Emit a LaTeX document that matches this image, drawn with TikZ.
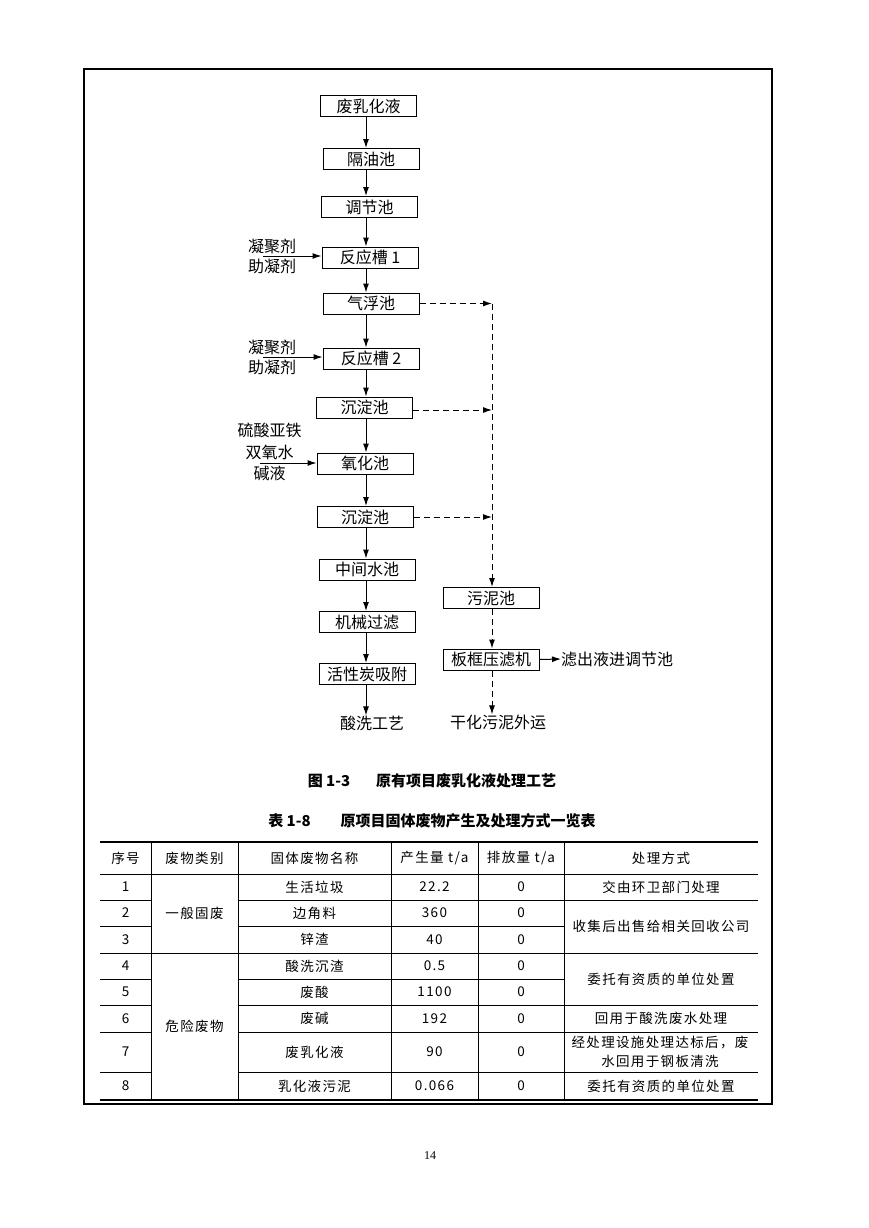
\documentclass[tikz,border=0pt]{standalone}
\usepackage{fontspec}
\setmainfont{Noto Sans CJK SC}
\newfontfamily\tabfont{Noto Sans CJK SC}[LetterSpace=10]
\newfontfamily\pgfont{Liberation Serif}
\usetikzlibrary{arrows.meta}
\tikzset{
  box/.style={draw, line width=1pt, minimum width=96pt, minimum height=21pt, inner sep=0pt, font=\fontsize{16}{16}\selectfont},
  lbl/.style={inner sep=0pt, align=center, font=\fontsize{16}{20}\selectfont},
  arr/.style={line width=1pt, -{Latex[length=9pt,width=6pt]}},
  darr/.style={arr, dash pattern=on 6pt off 4pt},
  cell/.style={inner sep=0pt, align=center, font=\tabfont\fontsize{13.5}{19}\selectfont},
  rulethin/.style={line width=0.8pt},
  rulethick/.style={line width=2.6pt},
  captxt/.style={inner sep=0pt, font=\bfseries\fontsize{15}{16}\selectfont}
}
\begin{document}
\begin{tikzpicture}[x=1pt,y=-1pt]
\useasboundingbox[fill=white] (0,0) rectangle (869,1228);
% outer frame
\draw[line width=2pt] (84,69) rectangle (772,1104);

% main chain
\coordinate (ax) at (366,0);
\node[box] (fy) at (368.5,106.5) {废乳化液};
\node[box] (gy) at (371,159) {隔油池};
\node[box] (tj) at (369.5,207) {调节池};
\node[box] (r1) at (370,257.5) {反应槽 1};
\node[box] (qf) at (371,303.5) {气浮池};
\node[box] (r2) at (371,358.5) {反应槽 2};
\node[box] (c1) at (364.5,407.5) {沉淀池};
\node[box] (yh) at (365,463.5) {氧化池};
\node[box] (c2) at (365,517) {沉淀池};
\node[box] (zj) at (367,569.5) {中间水池};
\node[box] (jx) at (367,622) {机械过滤};
\node[box] (hx) at (367,674) {活性炭吸附};
\node[lbl] (sx) at (372,723) {酸洗工艺};

\foreach \a/\b in {fy/gy,gy/tj,tj/r1,r1/qf,qf/r2,r2/c1,c1/yh,yh/c2,c2/zj,zj/jx,jx/hx,hx/sx}
  \draw[arr] (\a.south -| ax) -- (\b.north -| ax);

% side inputs
\node[lbl] (in1) at (272,256) {凝聚剂\\助凝剂};
\coordinate (in1s) at (263,256);
\draw[arr] (in1s) -- (r1.west |- in1s);
\node[lbl] (in2) at (272,357) {凝聚剂\\助凝剂};
\coordinate (in2s) at (263,357);
\draw[arr] (in2s) -- (r2.west |- in2s);
\node[lbl, font=\fontsize{16}{21.5}\selectfont] (in3) at (269.5,452) {硫酸亚铁\\双氧水\\碱液};
\coordinate (in3s) at (260,463);
\draw[arr] (in3s) -- (yh.west |- in3s);

% sludge branch
\coordinate (cn) at (492,303.5);
\node[box] (wn) at (491,598) {污泥池};
\node[box] (bk) at (491,659.5) {板框压滤机};
\node[lbl, anchor=west] (lc) at (561,659) {滤出液进调节池};
\node[lbl] (gh) at (498,722) {干化污泥外运};

\draw[darr] (qf.east) -- (cn);
\draw[darr] (cn) -- (wn.north -| cn);
\draw[darr] (c1.east |- 0,410) -- (cn |- 0,410);
\draw[darr] (c2.east) -- (c2.east -| cn);
\draw[darr] (wn.south -| cn) -- (bk.north -| cn);
\draw[darr] (bk.south -| cn) -- (cn |- gh.north);
\draw[arr] (bk.east) -- (lc.west);

% captions
\node[captxt] (cap1) at (432,781) {图 1-3\hspace{26pt}原有项目废乳化液处理工艺};
\node[captxt] (cap2) at (432,821) {表 1-8\hspace{30pt}原项目固体废物产生及处理方式一览表};

% table rules
\draw[rulethick] (100,842) -- (758,842);
\draw[rulethick] (100,1100) -- (758,1100);
\draw[rulethin] (100,874) -- (758,874);
\draw[rulethin] (100,953) -- (758,953);
\foreach \y in {900,1005,1032,1072} {
  \draw[rulethin] (100,\y) -- (151,\y);
  \draw[rulethin] (238,\y) -- (758,\y);
}
\foreach \y in {926,979} {
  \draw[rulethin] (100,\y) -- (151,\y);
  \draw[rulethin] (238,\y) -- (564,\y);
}
\foreach \x in {151,238,391,478,564}
  \draw[rulethin] (\x,842) -- (\x,1100);

% header
\node[cell] (h1) at (125.5,858) {序号};
\node[cell] (h2) at (194.5,858) {废物类别};
\node[cell] (h3) at (314.5,858) {固体废物名称};
\node[cell] (h4) at (434.5,858) {产生量 t/a};
\node[cell] (h5) at (521,858) {排放量 t/a};
\node[cell] (h6) at (661,858) {处理方式};

% column 1 numbers
\foreach \n/\y in {1/887,2/913,3/939.5,4/966,5/992,6/1018.5,7/1052,8/1086}
  \node[cell] (n\n) at (125.5,\y) {\n};

% category
\node[cell] (k1) at (194.5,913) {一般固废};
\node[cell] (k2) at (194.5,1026) {危险废物};

% names
\node[cell] (m1) at (314.5,887) {生活垃圾};
\node[cell] (m2) at (314.5,913) {边角料};
\node[cell] (m3) at (314.5,939.5) {锌渣};
\node[cell] (m4) at (314.5,966) {酸洗沉渣};
\node[cell] (m5) at (314.5,992) {废酸};
\node[cell] (m6) at (314.5,1018.5) {废碱};
\node[cell] (m7) at (314.5,1052) {废乳化液};
\node[cell] (m8) at (314.5,1086) {乳化液污泥};

% amounts
\foreach \i/\v/\y in {1/22.2/887,2/360/913,3/40/939.5,4/0.5/966,5/1100/992,6/192/1018.5,7/90/1052,8/0.066/1086} {
  \node[cell] (p\i) at (434.5,\y) {\v};
  \node[cell] (e\i) at (521,\y) {0};
}

% treatment
\node[cell] (d1) at (661,887) {交由环卫部门处理};
\node[cell] (d2) at (661,926) {收集后出售给相关回收公司};
\node[cell] (d3) at (661,979) {委托有资质的单位处置};
\node[cell] (d4) at (661,1018.5) {回用于酸洗废水处理};
\node[cell] (d5) at (660,1052) {经处理设施处理达标后，废\\水回用于钢板清洗};
\node[cell] (d6) at (661,1086) {委托有资质的单位处置};

% page number
\node[inner sep=0pt, font=\pgfont\fontsize{12}{14}\selectfont] (pg) at (430,1156) {14};
\end{tikzpicture}
\end{document}
